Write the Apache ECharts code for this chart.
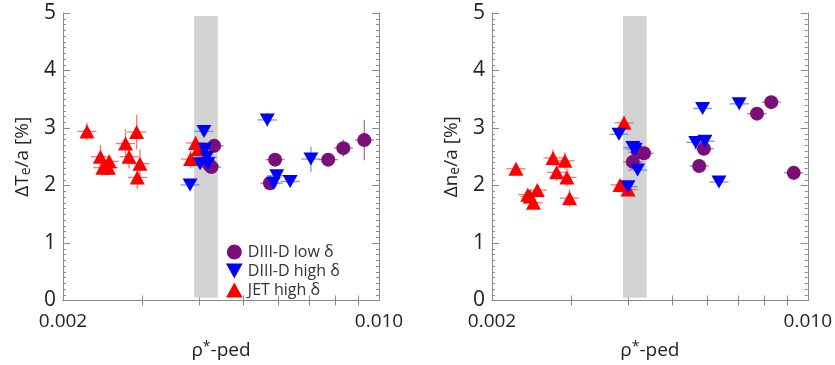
<!DOCTYPE html>
<html><head><meta charset="utf-8">
<script src="https://cdn.jsdelivr.net/npm/echarts@6/dist/echarts.min.js"></script>
<style>html,body{margin:0;padding:0;background:#fff}#c{width:835px;height:365px}</style>
</head><body><div id="c"></div>
<script>
// ---- axes ----
const xRange = [0.002, 0.010];
const xTickLabels = [0.002, 0.010];
const xMinorTicks = [0.003, 0.004, 0.005, 0.006, 0.007, 0.008, 0.009];
const yRange = [0, 5];
const yTickStep = 1;
const bandX = [0.0039, 0.0044];
const bandY = [0.05, 4.95];
const xErrRel = 0.05; // relative horizontal error

// ---- left panel: ΔTe/a ----
const teLowX  = [0.00432, 0.00421, 0.00426, 0.00589, 0.00574, 0.00772, 0.00834, 0.00928];
const teLowY  = [2.69, 2.36, 2.32, 2.45, 2.04, 2.45, 2.65, 2.79];
const teLowE  = [0.08, 0.08, 0.08, 0.10, 0.08, 0.10, 0.15, 0.35];
const teHighX = [0.0041, 0.00382, 0.00412, 0.00416, 0.00402, 0.00418, 0.00566, 0.00594, 0.00584, 0.00636, 0.00707];
const teHighY = [2.94, 2.01, 2.63, 2.49, 2.38, 2.38, 3.14, 2.17, 2.04, 2.07, 2.46];
const teHighE = [0.08, 0.05, 0.10, 0.10, 0.10, 0.10, 0.12, 0.10, 0.08, 0.10, 0.22];
const teJetX  = [0.00226, 0.00242, 0.00253, 0.00245, 0.00252, 0.00275, 0.00291, 0.0028, 0.00296, 0.00292, 0.00393, 0.00398, 0.00383];
const teJetY  = [2.94, 2.50, 2.42, 2.31, 2.31, 2.73, 2.93, 2.50, 2.38, 2.14, 2.74, 2.63, 2.46];
const teJetE  = [0.15, 0.20, 0.10, 0.10, 0.10, 0.25, 0.30, 0.20, 0.25, 0.20, 0.12, 0.10, 0.15];

// ---- right panel: Δne/a ----
const neLowX  = [0.0041, 0.00421, 0.00434, 0.00589, 0.00575, 0.00772, 0.0083, 0.00931];
const neLowY  = [2.41, 2.58, 2.56, 2.64, 2.34, 3.25, 3.45, 2.22];
const neLowE  = [0.06, 0.06, 0.06, 0.08, 0.08, 0.08, 0.08, 0.12];
const neHighX = [0.00382, 0.0041, 0.00415, 0.0042, 0.004, 0.00585, 0.00705, 0.00565, 0.00592, 0.00636];
const neHighY = [2.89, 2.66, 2.63, 2.27, 1.98, 3.34, 3.42, 2.75, 2.77, 2.06];
const neHighE = [0.06, 0.06, 0.06, 0.08, 0.05, 0.08, 0.10, 0.05, 0.05, 0.05];
const neJetX  = [0.00226, 0.00243, 0.00247, 0.00252, 0.0024, 0.00273, 0.00278, 0.0029, 0.00293, 0.00297, 0.00392, 0.00384, 0.004];
const neJetY  = [2.29, 1.81, 1.70, 1.92, 1.84, 2.48, 2.23, 2.43, 2.14, 1.78, 3.09, 2.01, 1.93];
const neJetE  = [0.05, 0.10, 0.10, 0.08, 0.08, 0.15, 0.15, 0.15, 0.15, 0.15, 0.12, 0.08, 0.10];

const names = ['DIII-D low δ', 'DIII-D high δ', 'JET high δ'];
const colors = ['#7a0f7a', '#0000ff', '#ff0000'];
const errColors = ['rgba(150,60,150,0.75)', 'rgba(90,120,255,0.8)', 'rgba(255,80,80,0.8)'];
const downTri = 'path://M0,0L10,0L5,9Z';
const upTri = 'path://M5,0L10,9L0,9Z';
const symbols = ['circle', downTri, upTri];
const sizes = [14, [15, 13], [15, 14]];

const panels = [
  { sets: [[teLowX, teLowY, teLowE], [teHighX, teHighY, teHighE], [teJetX, teJetY, teJetE]], yName: 'T' },
  { sets: [[neLowX, neLowY, neLowE], [neHighX, neHighY, neHighE], [neJetX, neJetY, neJetE]], yName: 'n' }
];

const L = Math.log10;
const FONT = '"Open Sans", "DejaVu Sans", sans-serif';
const axisCol = '#8a8a8a';
const grids = [], xAxes = [], yAxes = [], series = [];

panels.forEach((p, k) => {
  grids.push({ left: k === 0 ? 63 : 492, top: 13, width: 316, height: 293 });
  const xBase = {
    gridIndex: k, type: 'value', min: L(xRange[0]), max: L(xRange[1]),
    splitLine: { show: false },
    axisLine: { show: true, lineStyle: { color: axisCol, width: 1 } },
    axisTick: { show: true, inside: true, length: 5, customValues: xMinorTicks.map(L), lineStyle: { color: axisCol } }
  };
  xAxes.push(Object.assign({}, xBase, {
    position: 'bottom',
    axisLabel: { show: true, customValues: xTickLabels.map(L), margin: 12, fontSize: 19, color: '#222', fontFamily: FONT,
      formatter: v => Math.pow(10, v).toFixed(3) },
    name: '{a|ρ}{s|*}{a|-ped}', nameLocation: 'middle', nameGap: 40,
    nameTextStyle: { rich: { a: { fontSize: 19, color: '#222', fontFamily: FONT }, s: { fontSize: 14, color: '#222', fontFamily: FONT, padding: [0, 0, 6, 0] } } }
  }));
  xAxes.push(Object.assign({}, xBase, { position: 'top', axisLabel: { show: false } }));
  const yBase = {
    gridIndex: k, type: 'value', min: yRange[0], max: yRange[1], interval: yTickStep,
    splitLine: { show: false },
    axisLine: { show: true, lineStyle: { color: axisCol, width: 1 } },
    axisTick: { show: true, inside: true, length: 7, lineStyle: { color: axisCol } },
    minorTick: { show: true, splitNumber: 10, length: 3, lineStyle: { color: axisCol } }
  };
  yAxes.push(Object.assign({}, yBase, {
    position: 'left',
    axisLabel: { show: true, margin: 7, fontSize: 21, color: '#222', fontFamily: FONT },
    name: '{a|Δ' + p.yName + '}{s|e}{a|/a [%]}', nameLocation: 'middle', nameGap: 30,
    nameTextStyle: { rich: { a: { fontSize: 19, color: '#222', fontFamily: FONT }, s: { fontSize: 14, color: '#222', fontFamily: FONT, padding: [7, 0, 0, 0] } } }
  }));
  yAxes.push(Object.assign({}, yBase, { position: 'right', axisLabel: { show: false } }));

  // grey band
  series.push({
    type: 'scatter', xAxisIndex: 2 * k, yAxisIndex: 2 * k, data: [], silent: true,
    markArea: { silent: true, itemStyle: { color: '#d3d3d3' },
      data: [[{ xAxis: L(bandX[0]), yAxis: bandY[0] }, { xAxis: L(bandX[1]), yAxis: bandY[1] }]] }
  });

  // error bars
  p.sets.forEach((s, j) => {
    series.push({
      type: 'custom', name: 'err' + k + j, xAxisIndex: 2 * k, yAxisIndex: 2 * k, z: 2, silent: true,
      data: s[0].map((x, i) => [L(x), s[1][i], s[2][i]]),
      renderItem: (params, api) => {
        const x = api.value(0), y = api.value(1), e = api.value(2);
        const dx = L(1 + xErrRel);
        const a = api.coord([x - dx, y]), b = api.coord([x + dx, y]);
        const c = api.coord([x, y - e]), d = api.coord([x, y + e]);
        const st = { stroke: errColors[j], lineWidth: 1.3 };
        return { type: 'group', children: [
          { type: 'line', shape: { x1: a[0], y1: a[1], x2: b[0], y2: b[1] }, style: st },
          { type: 'line', shape: { x1: c[0], y1: c[1], x2: d[0], y2: d[1] }, style: st }
        ] };
      }
    });
  });
  // markers: purple first, then red, then blue
  [0, 2, 1].forEach(j => {
    const s = p.sets[j];
    series.push({
      type: 'scatter', name: names[j], xAxisIndex: 2 * k, yAxisIndex: 2 * k, z: 3,
      symbol: symbols[j], symbolSize: sizes[j],
      itemStyle: { color: colors[j], opacity: 1 },
      data: s[0].map((x, i) => [L(x), s[1][i]])
    });
  });
});

const chart = echarts.init(document.getElementById('c'), null, { renderer: 'canvas' });
chart.setOption({
  animation: false,
  backgroundColor: '#fff',
  grid: grids, xAxis: xAxes, yAxis: yAxes, series: series,
  legend: {
    orient: 'vertical', left: 221, top: 239, itemWidth: 17, itemHeight: 15, itemGap: 3,
    textStyle: { fontSize: 16, color: '#333', fontFamily: FONT },
    data: [
      { name: names[0], icon: 'circle', itemStyle: { color: colors[0] } },
      { name: names[1], icon: downTri, itemStyle: { color: colors[1] } },
      { name: names[2], icon: upTri, itemStyle: { color: colors[2] } }
    ]
  }
});
</script></body></html>
